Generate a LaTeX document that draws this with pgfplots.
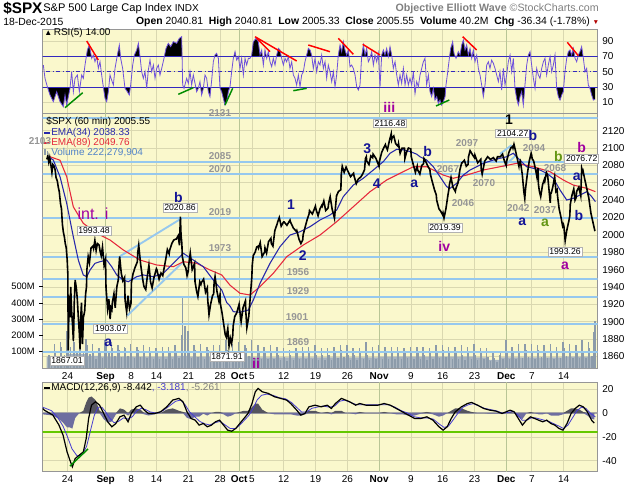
\documentclass[border=0pt]{standalone}
\usepackage{fontspec}
\setmainfont{Liberation Sans}
\usepackage{pgfplots}
\usepackage{pgfplotstable}
\pgfplotsset{compat=1.18}
\definecolor{bgy}{RGB}{250,248,204}
\definecolor{gridc}{RGB}{218,216,176}
\definecolor{monthc}{RGB}{185,198,150}
\definecolor{framec}{RGB}{150,150,150}
\definecolor{srblue}{RGB}{150,200,238}
\definecolor{ewblue}{RGB}{20,20,150}
\definecolor{ewpurp}{RGB}{160,0,160}
\definecolor{ewgreen}{RGB}{100,150,20}
\definecolor{lblgray}{RGB}{150,150,150}
\definecolor{rsic}{RGB}{110,80,220}
\definecolor{rsiln}{RGB}{50,40,190}
\definecolor{emablue}{RGB}{40,40,170}
\definecolor{emared}{RGB}{230,40,60}
\definecolor{volc}{RGB}{140,155,170}
\definecolor{histp}{RGB}{85,85,95}
\definecolor{histn}{RGB}{110,110,160}
\definecolor{sigc}{RGB}{70,60,210}
\definecolor{macdgreen}{RGB}{100,200,0}

\pgfplotstableread{
d p
-3.25 2087
-3.1 2091
-2.95 2084
-2.8 2089
-2.6 2080
-2.45 2072
-2.3 2081
-2.1 2079
-1.95 2075
-1.8 2066
-1.6 2062
-1.45 2055
-1.3 2050
-1.1 2036
-0.95 2030
-0.8 2012
-0.65 2003
-0.5 1998
-0.35 1990
-0.2 1985
-0.05 1971
0.05 1955
0.12 1867
0.25 1930
0.4 1905
0.5 1940
0.65 1912
0.8 1895
0.92 1878
0.99 1893
1.05 1920
1.2 1948
1.4 1938
1.55 1925
1.7 1905
1.85 1888
1.98 1868
2.05 1900
2.2 1922
2.35 1874
2.5 1905
2.7 1912
2.85 1932
2.98 1940
3.05 1960
3.25 1975
3.45 1968
3.7 1985
3.98 1987
4.1 1984
4.3 1993.5
4.5 1982
4.7 1990
4.98 1988
5.1 1982
5.3 1976
5.5 1986
5.75 1965
5.98 1972
6.05 1940
6.3 1915
6.5 1926
6.7 1903
6.85 1916
6.98 1914
7.05 1922
7.3 1932
7.5 1916
7.75 1940
7.98 1948
8.05 1960
8.2 1975
8.45 1956
8.7 1947
8.98 1951
9.05 1925
9.3 1911
9.5 1930
9.75 1915
9.98 1921
10.05 1945
10.3 1955
10.6 1962
10.98 1969
11.05 1980
11.2 1988
11.5 1966
11.8 1950
11.98 1942
12.05 1940
12.3 1937
12.6 1955
12.8 1965
12.98 1952
13.05 1946
13.3 1939
13.6 1951
13.98 1961
14.05 1960
14.4 1949
14.7 1956
14.98 1953
15.05 1956
15.4 1970
15.7 1983
15.98 1978
16.05 1982
16.4 1990
16.7 1994
16.98 1995
17.1 1995
17.4 1999
17.6 1988
17.75 2020.9
17.85 2000
17.98 1990
18.05 1975
18.3 1966
18.6 1962
18.8 1953
18.98 1958
19.05 1965
19.3 1979
19.6 1960
19.98 1967
20.05 1946
20.3 1935
20.5 1929
20.8 1946
20.98 1943
21.05 1945
21.4 1949
21.7 1934
21.98 1939
22.05 1925
22.25 1908
22.5 1920
22.8 1930
22.98 1932
23.05 1945
23.2 1952
23.5 1935
23.8 1924
23.98 1931
24.05 1920
24.3 1910
24.6 1895
24.8 1885
24.98 1882
25.05 1886
25.2 1892
25.4 1872
25.6 1881
25.8 1875
25.98 1884
26.05 1895
26.3 1906
26.6 1910
26.98 1920
27.05 1915
27.3 1900
27.6 1916
27.98 1924
28.05 1910
28.2 1893
28.5 1906
28.7 1925
28.98 1951
29.05 1965
29.2 1976
29.5 1980
29.75 1986
29.98 1987
30.05 1985
30.3 1991
30.6 1975
30.98 1980
31.05 1985
31.3 1979
31.6 1992
31.98 1996
32.05 1990
32.3 1987
32.6 2005
32.98 2013
33.05 2015
33.3 2020
33.6 2010
33.98 2015
34.05 2015
34.5 2011
34.98 2017
35.05 2015
35.5 2008
35.98 2004
36.05 2005
36.4 1995
36.7 1990
36.98 1994
37.05 2000
37.4 2010
37.7 2018
37.98 2024
38.05 2028
38.5 2024
38.98 2033
39.05 2030
39.4 2022
39.7 2030
39.98 2034
40.05 2033
40.3 2039
40.6 2028
40.98 2031
41.05 2036
41.3 2044
41.6 2030
41.98 2019
42.05 2025
42.3 2045
42.6 2050
42.98 2052
43.05 2070
43.2 2079
43.5 2072
43.8 2078
43.98 2075
44.05 2074
44.5 2067
44.98 2071
45.05 2068
45.4 2059
45.7 2064
45.98 2066
46.05 2066
46.4 2070
46.7 2075
46.85 2088
46.98 2090
47.05 2085
47.4 2081
47.7 2091
47.98 2089
48.05 2093
48.5 2088
48.98 2079
49.05 2085
49.4 2095
49.7 2100
49.98 2104
50.05 2102
50.3 2098
50.6 2108
50.9 2116.5
50.98 2110
51.05 2112
51.3 2114
51.6 2105
51.98 2102
52.05 2105
52.3 2094
52.6 2100
52.98 2100
53.05 2088
53.3 2095
53.6 2100
53.98 2099
54.05 2090
54.4 2080
54.7 2072
54.98 2079
55.05 2075
55.4 2070
55.7 2080
55.98 2082
56.05 2088
56.3 2085
56.6 2080
56.98 2075
57.05 2070
57.4 2060
57.7 2052
57.98 2046
58.05 2040
58.4 2030
58.7 2027
58.98 2023
59.05 2025
59.2 2019.4
59.5 2030
59.8 2045
59.98 2053
60.05 2058
60.3 2066
60.6 2055
60.98 2050
61.05 2053
61.4 2060
61.7 2075
61.98 2083
62.05 2083
62.4 2086
62.7 2079
62.98 2081
63.05 2090
63.3 2097
63.7 2092
63.98 2089
64.05 2092
64.5 2083
64.98 2087
65.05 2076
65.2 2070
65.6 2085
65.98 2089
66.05 2090
66.5 2087
66.98 2089
67.05 2088
67.4 2085
67.6 2090
68.05 2090
68.4 2093
68.7 2085
68.98 2080
69.05 2085
69.4 2095
69.7 2100
69.98 2102
70.05 2100
70.2 2104.3
70.5 2095
70.8 2085
70.98 2079
71.05 2083
71.2 2085
71.5 2070
71.75 2050
71.9 2042
71.98 2050
72.05 2055
72.3 2070
72.6 2085
72.9 2094
72.98 2092
73.05 2088
73.3 2085
73.6 2075
73.8 2067
73.98 2077
74.05 2058
74.2 2050
74.4 2044
74.7 2058
74.98 2064
75.05 2062
75.3 2072
75.5 2068
75.8 2045
75.9 2037
75.98 2048
76.05 2048
76.3 2055
76.6 2067
76.8 2050
76.98 2052
77.05 2045
77.3 2030
77.6 2020
77.85 2010
77.98 2012
78.05 2010
78.25 1993.3
78.5 2005
78.8 2015
78.98 2022
79.05 2035
79.3 2045
79.6 2053
79.8 2040
79.98 2043
80.05 2050
80.4 2055
80.7 2045
80.85 2076.7
80.98 2073
81.05 2074
81.3 2065
81.6 2055
81.98 2042
82.05 2038
82.3 2025
82.6 2015
82.9 2005.3
82.98 2005.6
}\pricetab

\pgfplotstableread{
d p
-3.02 2090
-2.23 2086.2
-1.18 2067
-0.13 2036.4
0.91 1997.9
1.70 1971
2.48 1953.8
3.02 1951.8
3.54 1959.5
4.32 1967.2
5.11 1969.1
6.16 1971
6.95 1963.3
7.74 1953.8
8.77 1948
9.56 1946
10.88 1951.8
11.92 1953.8
13.49 1951.8
15.06 1955.7
16.64 1967.2
18.21 1978.8
19.78 1971
21.35 1963.3
22.92 1948
24.25 1936.5
25.03 1922
25.55 1918
26.07 1911.5
27.12 1910.8
28.43 1913.4
29.22 1925
30.27 1944.2
31.84 1967.2
33.41 1986.4
34.98 1999.8
36.56 2003.6
38.13 2009.4
39.70 2017.1
41.27 2022.9
42.33 2028.6
43.36 2044
44.94 2057.4
46.51 2065.2
48.08 2074.7
49.65 2084.3
50.71 2094
51.76 2098.6
52.80 2098
53.85 2096
54.90 2093
55.42 2090
56.48 2086.2
57.52 2078.5
58.57 2067
59.62 2055.5
60.14 2053.6
61.20 2059.4
62.23 2068.9
63.29 2074.7
64.34 2078.5
65.38 2082.4
66.95 2086.2
68.00 2088.2
69.06 2090
70.09 2094
71.15 2086.2
72.20 2078.5
73.24 2076.7
74.29 2074.7
75.35 2070.9
76.38 2065.2
77.44 2051.7
78.49 2040.2
79.53 2042.1
80.58 2045.9
81.64 2049.7
82.42 2044
83.00 2038.3
}\emaA

\pgfplotstableread{
d p
-2.75 2090
-1.18 2086
-0.13 2067
0.91 2032.4
2.48 2013.3
4.59 2001.8
6.68 1994.1
8.77 1982.6
11.40 1971
14.02 1965.3
16.64 1963.3
18.21 1969.1
20.31 1967.2
22.41 1959.5
24.25 1953.8
25.55 1942
27.12 1932.7
28.69 1930.7
30.27 1940.3
32.36 1955.7
34.46 1974.8
37.08 1988.3
39.70 1999.8
42.33 2015.2
44.94 2032.4
47.56 2049.7
50.18 2063.2
52.80 2072.8
54.37 2078.5
56.48 2078.5
59.09 2068.9
60.66 2065.2
62.76 2068.9
65.38 2074.7
68.00 2078.5
70.63 2082.4
73.24 2078.5
75.86 2072.8
77.96 2063.2
79.53 2057.4
81.64 2053.6
83.00 2049.8
}\emaB

\pgfplotstableread{
d o c
-3 80 150
-2 90 160
-1 130 230
0 210 190
1 160 200
2 170 180
3 140 150
4 90 120
5 100 170
6 150 160
7 120 140
8 110 130
9 120 150
10 100 130
11 110 140
12 100 130
13 90 120
14 90 130
15 90 130
16 90 140
17 100 200
18 430 230
19 100 140
20 110 150
21 90 130
22 110 140
23 100 140
24 100 170
25 110 150
26 100 160
27 100 140
28 120 170
29 100 140
30 90 130
31 90 140
32 90 130
33 80 120
34 70 110
35 80 120
36 90 130
37 90 130
38 90 140
39 80 120
40 80 120
41 80 130
42 100 140
43 110 140
44 80 120
45 80 120
46 90 160
47 80 130
48 90 140
49 90 130
50 90 130
51 90 130
52 90 120
53 100 130
54 90 130
55 90 130
56 80 120
57 90 140
58 100 140
59 110 130
60 90 130
61 90 140
62 80 130
63 90 150
64 80 120
65 90 120
66 70 100
67 60 80
68 90 170
69 90 130
70 90 150
71 100 150
72 110 150
73 90 140
74 110 140
75 100 150
76 90 130
77 100 160
78 120 150
79 100 140
80 100 170
81 100 160
82 120 290
}\voltab

\pgfplotstableread{
d r
-3.80 58.7
-3.54 41.3
-3.17 30.4
-2.75 19.6
-2.23 10.9
-1.70 23.9
-1.18 10.9
-0.66 4.3
-0.39 19.6
-0.13 6.5
0.39 28.3
0.65 50
0.92 23.9
1.18 41.3
1.55 45.7
1.86 23.9
2.23 45.7
2.49 41.3
2.75 58.7
3.12 78.3
3.43 84.8
3.80 67.4
4.06 71.7
4.32 63
4.59 69.6
4.85 54.3
5.11 63
5.37 45.7
5.63 30.4
5.90 15.2
6.16 10.9
6.42 23.9
6.68 45.7
6.94 39.1
7.21 32.6
7.47 54.3
7.84 71.7
8.15 84.8
8.36 67.4
8.67 54.3
9.04 28.3
9.41 23.9
9.72 19.6
9.93 32.6
10.25 58.7
10.51 71.7
10.88 78.3
11.14 87
11.40 69.6
11.66 50
11.92 41.3
12.19 50
12.45 28.3
12.71 52.2
12.97 65.2
13.23 50
13.50 58.7
13.76 41.3
14.02 54.3
14.28 58.7
14.54 45.7
14.81 54.3
15.17 67.4
15.49 80.4
15.85 87
16.22 82.6
16.64 89.1
17.16 87
17.58 93.5
17.95 95.7
18.11 32.6
18.32 28.3
18.74 41.3
19.00 34.8
19.26 50
19.52 32.6
19.78 45.7
20.05 34.8
20.31 23.9
20.57 28.3
20.83 37
21.09 19.6
21.36 28.3
21.62 45.7
21.88 41.3
22.14 23.9
22.40 17.4
22.67 39.1
22.93 63
23.19 71.7
23.45 73.9
23.72 67.4
23.98 28.3
24.24 23.9
24.50 15.2
24.76 6.5
25.03 10.9
25.29 23.9
25.55 30.4
25.81 50
26.07 67.4
26.34 76.1
26.60 65.2
26.86 69.6
27.12 54.3
27.38 67.4
27.65 45.7
27.91 67.4
28.17 58.7
28.43 67.4
28.69 67.4
28.96 71.7
29.22 89.1
29.64 93.5
30.00 89.1
30.27 71.7
30.53 78.3
30.79 58.7
31.05 78.3
31.32 67.4
31.58 76.1
31.84 63
32.10 56.5
32.36 67.4
32.63 58.7
32.89 71.7
33.15 80.4
33.41 78.3
33.67 67.4
33.94 58.7
34.20 67.4
34.46 63
34.72 69.6
34.98 54.3
35.25 63
35.51 45.7
35.77 41.3
36.03 32.6
36.30 45.7
36.56 30.4
36.82 45.7
37.08 50
37.34 63
37.60 71.7
37.87 80.4
38.13 78.3
38.39 71.7
38.65 54.3
38.92 67.4
39.18 50
39.44 63
39.70 58.7
39.96 71.7
40.23 54.3
40.49 63
40.75 41.3
41.01 58.7
41.27 50
41.54 37
41.80 50
42.06 30.4
42.32 45.7
42.58 71.7
42.85 84.8
43.11 76.1
43.37 89.1
43.63 78.3
43.89 71.7
44.16 78.3
44.42 56.5
44.68 58.7
44.94 54.3
45.21 45.7
45.47 30.4
45.73 26.1
45.99 32.6
46.25 69.6
46.52 84.8
46.78 71.7
47.04 80.4
47.30 63
47.56 67.4
47.83 76.1
48.09 58.7
48.35 71.7
48.61 63
48.87 73.9
49.14 30.4
49.40 71.7
49.66 78.3
49.92 71.7
50.18 80.4
50.45 69.6
50.71 82.6
50.97 71.7
51.23 54.3
51.50 63
51.76 45.7
52.02 32.6
52.28 45.7
52.54 34.8
52.81 54.3
53.07 32.6
53.33 45.7
53.59 32.6
53.85 41.3
54.12 32.6
54.38 50
54.64 21.7
54.90 37
55.16 30.4
55.43 45.7
55.69 54.3
55.95 63
56.21 67.4
56.47 32.6
56.74 45.7
57.00 23.9
57.26 17.4
57.52 28.3
57.78 13
58.05 17.4
58.31 8.7
58.57 13
58.83 6.5
59.09 10.9
59.36 17.4
59.51 32.6
59.72 45.7
60.04 67.4
60.25 80.4
60.56 89.1
60.77 73.9
61.09 67.4
61.45 76.1
61.72 71.7
61.98 84.8
62.24 91.3
62.50 78.3
62.76 84.8
63.03 71.7
63.29 80.4
63.55 67.4
63.81 78.3
64.07 63
64.34 71.7
64.60 54.3
64.86 45.7
65.12 32.6
65.38 17.4
65.65 32.6
65.91 58.7
66.17 63
66.43 54.3
66.69 65.2
66.96 60.9
67.22 54.3
67.48 45.7
67.74 37
68.00 50
68.27 26.1
68.53 54.3
68.79 32.6
69.05 45.7
69.31 63
69.58 71.7
69.84 50
70.10 67.4
70.36 28.3
70.62 15.2
70.89 6.5
71.15 17.4
71.41 23.9
71.67 6.5
71.93 32.6
72.20 58.7
72.46 71.7
72.72 76.1
72.98 58.7
73.25 41.3
73.51 28.3
73.77 54.3
74.03 45.7
74.29 41.3
74.56 54.3
74.82 63
75.08 67.4
75.34 45.7
75.60 58.7
75.87 69.6
76.13 50
76.39 58.7
76.65 71.7
76.91 28.3
77.18 17.4
77.44 13
77.70 19.6
77.96 23.9
78.22 50
78.49 67.4
78.75 76.1
79.01 78.3
79.27 71.7
79.53 80.4
79.80 67.4
80.06 63
80.32 71.7
80.58 76.1
80.84 82.6
81.11 67.4
81.37 50
81.63 54.3
81.89 32.6
82.15 28.3
82.42 19.6
82.68 13
82.94 14
}\rsitab

\pgfplotstableread{
d m
-3.9 3.9
-3.65 2.5
-2.3 -1.7
-1.35 -10
-0.7 -18.5
-0.07 -32.6
0.38 -39.6
0.76 -45.2
1.21 -38.2
1.85 -35.4
2.49 -32.6
2.94 -21.3
3.32 -4.5
3.77 6.7
4.41 9.6
5.05 6.7
5.69 -0.3
6.32 -7.3
6.97 -11.5
7.61 -8.7
8.24 -3.1
8.88 -1.7
9.52 -7.3
10.03 -0.3
10.8 5.3
11.44 6.7
12.08 2.5
12.72 -0.3
13.68 -0.3
14.64 1.1
15.6 5.3
16.55 11
17.51 12.4
18.15 9.6
18.79 1.1
19.43 -4.5
20.07 -5.9
20.7 -10.1
21.35 -8.7
21.98 -11.5
22.63 -10.1
23.26 -7.3
23.9 -5.9
24.54 -10.1
25.17 -14.3
25.82 -15.2
26.46 -12.9
27.09 -8.7
27.74 -4.5
28.38 -0.3
29.01 8.1
29.53 18
29.97 20.8
30.61 18
31.57 16.6
32.53 13.8
33.49 12.4
34.45 11
35.09 8.1
36.04 2.5
36.68 -1.7
37.33 -0.3
37.96 5.3
38.92 6.7
39.88 5.3
40.84 6.7
41.48 3.9
42.12 8.1
43.08 12.4
43.71 11
44.35 9.6
45.31 6.7
45.96 8.1
46.92 6.7
47.88 6.7
48.82 6.7
49.78 8.1
50.74 6.7
51.7 3.9
52.66 1.1
53.62 -1.7
54.58 -4.5
55.54 -4.5
56.5 -3.1
57.45 -5.9
58.41 -11.5
59.06 -14.3
59.7 -11.5
60.33 -4.5
60.97 1.1
61.93 5.3
62.89 8.1
63.52 9
64.48 6.7
65.44 3.9
66.4 2.5
67.36 1.7
68.32 -0.3
68.96 1.1
69.6 2.5
70.24 1.1
70.88 -4.5
71.53 -10.1
72.16 -5.9
72.8 -3.1
73.44 -4.5
74.07 -5.9
74.72 -7.3
75.35 -5.9
75.99 -8.7
76.63 -10.1
77.27 -12.9
77.91 -14.3
78.55 -8.7
79.18 -0.3
79.83 3.9
80.47 6.7
81.1 5.3
81.74 1.1
82.39 -5.9
82.83 -8.4
}\macdtab

\pgfplotstableread{
d s
-3.9 5
-2.5 2
-1.5 -4
-0.7 -11
0 -20
0.7 -30
1.5 -36
2.3 -35
3.0 -28
3.6 -15
4.2 -2
4.8 5
5.4 5
6.0 1
6.6 -4
7.3 -8
8.0 -7
8.8 -4
9.5 -5
10.2 -3
10.9 2
11.6 4
12.3 3
13.0 1
14.0 0
15.0 2
16.0 6
17.0 10
17.8 11
18.5 7
19.2 1
20.0 -3
20.8 -7
21.6 -9
22.4 -10
23.2 -8
24.0 -7
24.8 -10
25.6 -13
26.4 -13
27.1 -10
27.8 -6
28.5 -2
29.2 4
29.8 11
30.5 15
31.3 16
32.3 15
33.3 13
34.3 12
35.2 9
36.0 5
36.8 1
37.6 1
38.4 4
39.2 5
40.2 6
41.2 5
42.0 6
42.8 10
43.6 11
44.5 9
45.5 7
46.5 7
47.5 7
48.5 7
49.5 7
50.5 7
51.5 5
52.5 2
53.5 0
54.5 -3
55.5 -4
56.5 -4
57.5 -5
58.4 -9
59.2 -12
59.9 -11
60.6 -6
61.4 0
62.2 5
63.0 7
63.8 8
64.7 6
65.6 4
66.5 3
67.4 2
68.4 0
69.2 0.5
70.0 1.5
70.7 -1
71.5 -6
72.2 -6
72.9 -4
73.6 -4
74.3 -5
75.0 -6
75.7 -7
76.5 -9
77.3 -11
78.0 -13
78.7 -10
79.4 -4
80.1 2
80.8 5
81.5 4
82.2 0
83.0 -3.2
}\sigtab

\pgfplotstableread{
d h
-3.9 -1
-2.3 -2
-1.35 -5
-0.7 -8
-0.07 -12
0.38 -12
0.76 -13
1.21 -4
1.85 0
2.49 2
2.94 9
3.32 13
3.77 14
4.41 11
5.05 2
5.69 -5
6.32 -8
6.97 -7
7.61 -1
8.24 4
8.88 3
9.52 -2
10.03 3
10.8 4
11.44 3
12.08 -1
12.72 -2
13.68 -1
14.64 0
15.6 3
16.55 4
17.51 2
18.15 1
18.79 -4
19.43 -5
20.07 -3
20.7 -3
21.35 -0.5
21.98 -2
22.63 0
23.26 1
23.9 1
24.54 -1
25.17 -3
25.82 -2
26.46 0
27.09 1
27.74 2
28.38 2
29.01 5
29.53 8
29.97 8
30.61 3
31.57 0
32.53 -1
33.49 -1
34.45 -1
35.09 -1
36.04 -2
36.68 -2
37.33 -1
37.96 2
38.92 2
39.88 0
40.84 1
41.48 -1
42.12 2
43.08 2
43.71 0
44.35 0
45.31 -1
45.96 1
46.92 0
47.88 0
48.82 0
49.78 1
50.74 0
51.7 -1
52.66 -1
53.62 -2
54.58 -2
55.54 -0.5
56.5 1
57.45 -1
58.41 -3
59.06 -2
59.7 0
60.33 2
60.97 4
61.93 4
62.89 2
63.52 1
64.48 0
65.44 0
66.4 -0.5
67.36 -0.5
68.32 -0.5
68.96 0.5
69.6 1
70.24 0
70.88 -3
71.53 -5
72.16 0
72.8 1
73.44 0
74.07 -1
74.72 -1
75.35 0
75.99 -2
76.63 -2
77.27 -2
77.91 -1
78.55 2
79.18 4
79.83 4
80.47 3
81.1 1
81.74 -2
82.39 -5
82.83 -5.3
}\histtab

\pgfplotsset{
  panel/.style={
    scale only axis, width=416.18pt, xmin=-3.9, xmax=83.35,
    anchor=north west,
    axis background/.style={fill=bgy},
    axis line style={draw=framec, line width=0.5pt},
    yticklabel pos=right,
    tick label style={font=\fontsize{7.5}{8}\selectfont, text=black},
    xtick={0,6,10,14,19,24,27,29,34,39,44,49,54,59,64,69,73,78},
    xticklabels={24,\textbf{Sep},8,14,21,28,\textbf{Oct},5,12,19,26,\textbf{Nov},9,16,23,\textbf{Dec},7,14},
    xmajorgrids, ymajorgrids, grid style={gridc, line width=0.5pt},
    major tick length=0pt,
    /pgf/number format/assume math mode=true,
    /pgf/number format/1000 sep={},
  },
  ovl/.style={
    scale only axis, width=416.18pt, xmin=-3.9, xmax=83.35,
    anchor=north west, hide axis,
  },
  monthlines/.style={monthc, line width=0.6pt},
}

\begin{document}
\begin{tikzpicture}
\path[fill=white] (0,0) rectangle (480pt,-363.75pt);
\path[use as bounding box] (0,0) rectangle (480pt,-363.75pt);

% ---------------- RSI panel frame ----------------
\begin{axis}[panel, at={(32.03pt,-21.75pt)}, height=63pt,
  ymin=-3.9, ymax=105.7, ytick={10,30,50,70,90}, xticklabels={}]
\addplot[monthlines] coordinates {(6,-10) (6,120)};
\addplot[monthlines] coordinates {(27,-10) (27,120)};
\addplot[monthlines] coordinates {(49,-10) (49,120)};
\addplot[monthlines] coordinates {(69,-10) (69,120)};
\end{axis}
% RSI fill above 70
\begin{axis}[ovl, at={(32.03pt,-21.75pt)}, height=20.52pt, ymin=0, ymax=35.7]
\addplot[fill=black, draw=none] table[x=d, y expr=\thisrow{r}-70] {\rsitab} \closedcycle;
\end{axis}
% RSI fill below 30
\begin{axis}[ovl, anchor=south west, at={(32.03pt,-84.75pt)}, height=19.49pt, ymin=-33.9, ymax=0]
\addplot[fill=black, draw=none] table[x=d, y expr=\thisrow{r}-30] {\rsitab} \closedcycle;
\end{axis}
% RSI lines
\begin{axis}[ovl, at={(32.03pt,-21.75pt)}, height=63pt, ymin=-3.9, ymax=105.7]
\addplot[rsiln, line width=0.7pt] coordinates {(-5,70) (90,70)};
\addplot[rsiln, line width=0.7pt] coordinates {(-5,30) (90,30)};
\addplot[rsiln, line width=0.6pt, dash dot] coordinates {(-5,50) (90,50)};
\addplot[rsic, line width=0.6pt] table[x=d,y=r] {\rsitab};
\end{axis}

% ---------------- Price frame ----------------
\begin{axis}[panel, at={(32.03pt,-84.75pt)}, height=191.25pt,
  ymin=1846.6, ymax=2140.4, ytick={1860,1880,...,2120}]
\addplot[monthlines] coordinates {(6,1800) (6,2200)};
\addplot[monthlines] coordinates {(27,1800) (27,2200)};
\addplot[monthlines] coordinates {(49,1800) (49,2200)};
\addplot[monthlines] coordinates {(69,1800) (69,2200)};
\end{axis}

% ---------------- Volume overlay ----------------
\begin{axis}[scale only axis, width=416.18pt, height=191.25pt,
  at={(32.03pt,-84.75pt)}, anchor=north west,
  xmin=-3.9, xmax=83.35, ymin=0, ymax=1565,
  axis x line=none, axis y line*=left, y axis line style={draw=none},
  xtick=\empty, ytick={100,200,300,400,500},
  yticklabels={100M,200M,300M,400M,500M},
  tick label style={font=\fontsize{7}{8}\selectfont},
  major tick length=2.5pt, tick align=outside, ytick style={black, line width=0.4pt}]
\addplot[const plot, fill=volc!75, draw=none] coordinates {
(-3.3,70) (0,85) (3,75) (5,70) (17,75) (19,70) (29,65) (44,65) (49,70) (64,65) (66,50) (68,65) (78,70) (83.1,70)} \closedcycle;
\addplot[ycomb, volc, line width=1.1pt] table[x expr=\thisrow{d}+0.08, y=o] {\voltab};
\addplot[ycomb, volc, line width=1.1pt] table[x expr=\thisrow{d}+0.5, y expr=0.6*\thisrow{o}] {\voltab};
\addplot[ycomb, volc, line width=1.1pt] table[x expr=\thisrow{d}+0.92, y=c] {\voltab};
\addplot[ycomb, volc, line width=1.1pt] coordinates {(82.78,220)};
\end{axis}

% ---------------- Price overlay ----------------
\begin{axis}[ovl, at={(32.03pt,-84.75pt)}, height=191.25pt,
  ymin=1846.6, ymax=2140.4]
\addplot[srblue, line width=1.6pt] coordinates {(-5,2134.3) (90,2134.3)};
\addplot[srblue, line width=1.6pt] coordinates {(-5,2084.3) (90,2084.3)};
\addplot[srblue, line width=1.6pt] coordinates {(-5,2069.8) (90,2069.8)};
\addplot[srblue, line width=1.6pt] coordinates {(-5,2019.1) (90,2019.1)};
\addplot[srblue, line width=1.6pt] coordinates {(-5,1974.9) (90,1974.9)};
\addplot[srblue, line width=1.6pt] coordinates {(-5,1949.1) (90,1949.1)};
\addplot[srblue, line width=1.6pt] coordinates {(-5,1928.1) (90,1928.1)};
\addplot[srblue, line width=1.6pt] coordinates {(-5,1897.5) (90,1897.5)};
\addplot[srblue, line width=1.6pt] coordinates {(-5,1865.0) (90,1865.0)};
\addplot[srblue, line width=1.4pt] coordinates {(8.27,1975.5) (17.96,2019.1)};
\addplot[srblue, line width=1.4pt] coordinates {(9.40,1906.9) (18.21,1969.1)};
\addplot[srblue, line width=1.4pt] coordinates {(68.0,2093.2) (69.84,2103.5)};
\addplot[srblue, line width=1.4pt] coordinates {(68.5,2078.5) (70.6,2092.0)};
\addplot[emared, line width=0.8pt] table[x=d,y=p] {\emaB};
\addplot[emablue, line width=0.8pt] table[x=d,y=p] {\emaA};
\addplot[black, line width=1.2pt] table[x=d,y=p] {\pricetab};
\end{axis}

% ---------------- MACD panel ----------------
\begin{axis}[panel, at={(32.03pt,-286.5pt)}, height=66.75pt,
  ymin=-48.7, ymax=26.2, ytick={-40,-20,0,20}]
\addplot[monthlines] coordinates {(6,-60) (6,40)};
\addplot[monthlines] coordinates {(27,-60) (27,40)};
\addplot[monthlines] coordinates {(49,-60) (49,40)};
\addplot[monthlines] coordinates {(69,-60) (69,40)};
\addplot[gray!70, line width=1.2pt] coordinates {(-5,0) (90,0)};
\addplot[fill=histp, draw=none] table[x=d, y expr={max(\thisrow{h},0)}] {\histtab} \closedcycle;
\addplot[fill=histn, draw=none] table[x=d, y expr={min(\thisrow{h},0)}] {\histtab} \closedcycle;
\addplot[macdgreen, line width=1.4pt] coordinates {(-5,-15.8) (90,-15.8)};
\addplot[sigc, line width=0.6pt] table[x=d,y=s] {\sigtab};
\addplot[black, line width=0.9pt] table[x=d,y=m] {\macdtab};
\end{axis}

% ---------------- Annotations (pixel coordinates) ----------------
\begin{scope}[x=0.75pt, y=-0.75pt]
\tikzset{
  gl/.style={text=lblgray, font=\bfseries\fontsize{7.5}{8}\selectfont, inner sep=0pt},
  co/.style={draw=gray!60, fill=white, inner sep=1pt, font=\fontsize{6.5}{7}\selectfont},
  ew/.style={font=\bfseries\fontsize{10.5}{11}\selectfont, inner sep=0pt},
  lg/.style={anchor=west, inner sep=0pt, font=\fontsize{7.5}{8}\selectfont},
}
% header
\node[anchor=west, inner sep=0pt, font=\bfseries\fontsize{11.5}{12}\selectfont] at (3,8.5) {\$SPX};
\node[anchor=west, inner sep=0pt, font=\fontsize{8.3}{9}\selectfont] at (43,9) {S\&P 500 Large Cap Index {\fontsize{7.5}{8}\selectfont INDX}};
\node[anchor=east, inner sep=0pt, text=gray, font=\fontsize{8}{9}\selectfont] at (599,9) {\textbf{Objective Elliott Wave} ©StockCharts.com};
\node[anchor=west, inner sep=0pt, font=\fontsize{7.8}{9}\selectfont] at (3,22) {18-Dec-2015};
\node[anchor=east, inner sep=0pt, font=\fontsize{7.8}{9}\selectfont] at (590,22) {\textbf{Open} 2040.81 \ \textbf{High} 2040.81 \ \textbf{Low} 2005.33 \ \textbf{Close} 2005.55 \ \textbf{Volume} 40.2M \ \textbf{Chg} -36.34 (-1.78\%)};
\node[inner sep=0pt, text=red!70!black, font=\fontsize{5}{6}\selectfont] at (596,22.5) {▼};

% RSI legend
\node[lg] at (44,33) {{\fontsize{6}{6}\selectfont ▲}\,RSI(5) 14.00};
% RSI red / green lines
\draw[red, line width=1.1pt] (86.7,41) -- (98.3,60);
\draw[red, line width=1.1pt] (255,36.7) -- (296.7,61);
\draw[red, line width=1.1pt] (256.7,38.3) -- (270,51.7);
\draw[red, line width=1.1pt] (308.3,45) -- (330,51.7);
\draw[red, line width=1.1pt] (338.3,38.3) -- (353.3,54.3);
\draw[red, line width=1.1pt] (362.7,44.3) -- (380,55);
\draw[red, line width=1.1pt] (462.7,36.7) -- (476.7,50);
\draw[red, line width=1.1pt] (567.3,42.3) -- (578.3,55.7);
\draw[green!55!black, line width=1.1pt] (65,107.7) -- (82.7,92.7);
\draw[green!55!black, line width=1.1pt] (178.3,94.3) -- (193.3,87.7);
\draw[green!55!black, line width=1.1pt] (225,105) -- (232.7,88.3);
\draw[green!55!black, line width=1.1pt] (293.3,90.7) -- (306.7,88.3);
\draw[green!55!black, line width=1.1pt] (436,106) -- (449.3,100);
\draw[green!55!black, line width=1.1pt] (70,466) -- (88,449);

% price legend
\node[lg] at (46,122) {\$SPX (60 min) 2005.55};
\draw[emablue, line width=1.2pt] (44,133) -- (50,133);
\node[lg, text=emablue] at (51,133) {EMA(34) 2038.33};
\draw[emared, line width=1.2pt] (44,143) -- (50,143);
\node[lg, text=emared] at (51,143) {EMA(89) 2049.76};
\fill[volc] (44,149) rectangle (45.5,155);
\fill[volc] (46.5,151) rectangle (48,155);
\node[lg, text={rgb,255:red,80;green,130;blue,200}] at (51,152.5) {Volume 222,279,904};

% MACD legend
\draw[black, line width=1.2pt] (44,388) -- (50,388);
\node[lg] at (51,388) {MACD(12,26,9) -8.442{\color{sigc}, -3.181}{\color{gray}, -5.261}};

% gray level labels
\node[gl] at (220,113) {2131};
\node[gl] at (40,141) {2103};
\node[gl] at (220,155.7) {2085};
\node[gl] at (220,169.3) {2070};
\node[gl] at (220,211.7) {2019};
\node[gl] at (220,248) {1973};
\node[gl] at (298,271.7) {1956};
\node[gl] at (298,291) {1929};
\node[gl] at (297,317.3) {1901};
\node[gl] at (298,342.3) {1869};
\node[gl] at (467,143.5) {2097};
\node[gl] at (534,148) {2094};
\node[gl] at (448,169.5) {2067};
\node[gl] at (484,182.7) {2070};
\node[gl] at (555,168.5) {2068};
\node[gl] at (463,203.3) {2046};
\node[gl] at (518.3,208) {2042};
\node[gl] at (545,210) {2037};

% callouts
\node[co] at (180,207.7) {2020.86};
\node[co] at (94,231) {1993.48};
\node[co] at (110.7,328.5) {1903.07};
\node[co] at (67,360.7) {1867.01};
\node[co] at (227,357) {1871.91};
\node[co] at (390,123.3) {2116.48};
\node[co] at (512.7,133.3) {2104.27};
\node[co] at (581.7,159) {2076.72};
\node[co] at (445,227.7) {2019.39};
\node[co] at (565,251.7) {1993.26};

% Elliott wave labels
\node[ew, text=ewpurp, font=\fontsize{12}{13}\selectfont] at (93,214) {int. i};
\node[ew, text=ewblue] at (178.3,197.3) {b};
\node[ew, text=ewblue] at (108.3,343) {a};
\node[ew, text=ewpurp] at (256,363.3) {ii};
\node[ew, text=ewblue] at (291,205) {1};
\node[ew, text=ewblue] at (302.7,256) {2};
\node[ew, text=ewblue] at (367.3,149) {3};
\node[ew, text=ewblue] at (376.7,184) {4};
\node[ew, text=ewpurp] at (389.3,107.7) {iii};
\node[ew, text=ewblue] at (427.7,151) {b};
\node[ew, text=ewblue] at (414.3,184.3) {a};
\node[ew, text=ewpurp] at (444.3,246) {iv};
\node[ew, text=black] at (509,120) {1};
\node[ew, text=ewblue] at (533,135) {b};
\node[ew, text=ewblue] at (522.3,222) {a};
\node[ew, text=ewgreen] at (558.3,156.5) {b};
\node[ew, text=ewgreen] at (545,223) {a};
\node[ew, text=ewblue] at (576.7,177) {a};
\node[ew, text=ewblue] at (579,215) {b};
\node[ew, text=ewpurp] at (581.7,147.5) {b};
\node[ew, text=ewpurp] at (565,266) {a};
\end{scope}
\end{tikzpicture}
\end{document}
